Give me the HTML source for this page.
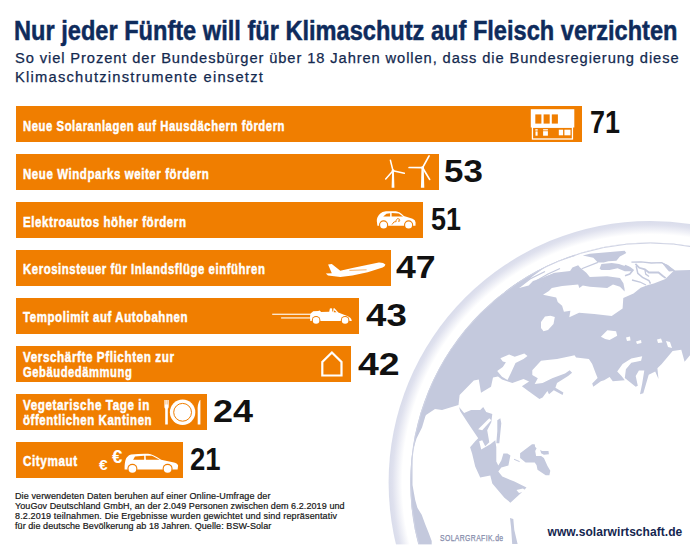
<!DOCTYPE html>
<html><head><meta charset="utf-8">
<style>
html,body{margin:0;padding:0;background:#fff;}
body{width:690px;height:546px;position:relative;overflow:hidden;font-family:"Liberation Sans",sans-serif;}
.t{position:absolute;white-space:nowrap;transform-origin:0 0;line-height:1;}
.title{left:13.5px;top:17.6px;font-size:27px;font-weight:bold;color:#0e2b5c;transform:scaleX(0.874);-webkit-text-stroke:0.5px #0e2b5c;}
.sub{left:15px;font-size:14.7px;color:#13294f;letter-spacing:0.9px;-webkit-text-stroke:0.25px #13294f;}
.bar{position:absolute;left:16px;height:36px;background:#f07e00;}
.lab{position:absolute;left:23.4px;font-size:15.2px;font-weight:bold;color:#fff;white-space:nowrap;transform-origin:0 0;transform:scaleX(0.855);line-height:1;-webkit-text-stroke:0.5px #fff;letter-spacing:0.75px;}
.num{position:absolute;font-size:31px;transform-origin:0 0;font-weight:bold;color:#111;line-height:1;white-space:nowrap;}
.foot{position:absolute;left:15px;font-size:9px;color:#161616;-webkit-text-stroke:0.2px #161616;line-height:1;white-space:nowrap;}
svg{position:absolute;left:0;top:0;}
</style></head><body>
<svg width="690" height="546" viewBox="0 0 690 546" id="globe" style="position:absolute;left:0;top:0">
<defs><radialGradient id="rg" gradientUnits="userSpaceOnUse" cx="650.3" cy="482.6" r="261.7"><stop offset="0.948" stop-color="#fff"/><stop offset="0.985" stop-color="#dfe1ee"/><stop offset="1" stop-color="#d9dceb"/></radialGradient>
<clipPath id="dc"><circle cx="650.3" cy="482.6" r="240.1"/></clipPath></defs>
<circle cx="650.3" cy="482.6" r="261.7" fill="url(#rg)"/>
<circle cx="650.3" cy="482.6" r="240.1" fill="#c4c9dd"/>
<g clip-path="url(#dc)">
<polygon fill="#fff" points="540.0,200.0 519.1,288.0 528.7,285.4 533.0,281.1 538.3,279.3 545.2,276.7 555.0,272.8 543.0,294.7 556.2,297.6 557.7,302.0 562.1,305.7 563.9,311.7 570.4,310.7 569.3,317.2 579.1,312.8 594.3,313.9 611.7,316.1 622.6,308.5 623.3,298.0 633.5,293.6 640.7,287.8 648.0,285.0 653.8,283.5 665.4,279.1 674.0,270.4 700.0,269.7 700.0,200.0"/>
<polygon fill="#c4c9dd" points="505.0,292.0 519.1,288.0 533.0,275.9 545.2,267.2 560.0,260.2 575.0,256.0 575.0,240.0 505.0,240.0"/>
<polygon fill="#c4c9dd" points="661.7,262.6 668.0,265.0 675.0,271.0 669.0,271.5 666.0,268.0"/>
<polygon fill="#c4c9dd" points="545.2,276.7 555.0,272.8 570.1,271.1 572.4,267.6 578.2,265.3 580.0,267.6 586.3,272.8 589.8,276.9 607.2,276.3 620.0,278.0 623.4,283.3 624.6,289.1 624.6,291.4 620.0,286.7 613.0,284.4 607.2,287.9 589.8,286.7 582.8,285.6 579.3,287.9 578.2,284.5 562.1,285.9 551.8,288.1 548.9,291.0 543.0,294.7 538.0,300.0"/>
<polygon fill="#c4c9dd" points="582.8,255.4 589.8,253.7 624.6,250.8 626.3,253.1 619.9,256.6 616.4,260.7 608.3,261.2 603.7,262.4 597.9,262.4 593.3,257.8 587.5,256.6"/>
<polygon fill="#c4c9dd" points="601.4,264.1 611.8,263.0 619.0,263.9 623.3,265.4 629.1,266.8 632.8,271.2 624.8,271.2 617.6,268.2 609.5,270.0 601.4,270.0 599.6,268.8"/>
<polygon fill="#fff" points="541.0,322.0 545.0,316.5 550.5,315.8 554.8,317.0 553.5,324.0 548.0,330.0 543.5,331.3 541.0,328.0"/>
<polygon fill="#fff" points="600.9,336.7 607.4,330.2 616.1,331.3 617.2,335.7 609.6,340.0 605.2,338.9"/>
<polygon fill="#fff" points="626.0,337.5 630.0,336.5 630.5,340.5 627.0,341.0"/>
<polygon fill="#fff" points="636.0,341.5 641.0,340.0 641.5,343.0 637.0,344.0"/>
<polygon fill="#fff" points="657.0,339.5 661.0,338.5 662.5,342.5 658.0,343.0"/>
<polygon fill="#fff" points="666.0,341.0 670.0,342.0 672.0,348.0 668.0,347.0"/>
<polygon fill="#fff" points="500.4,358.3 509.1,354.4 514.7,356.7 524.3,353.6 527.5,356.0 523.5,359.1 515.5,363.1 510.7,373.5 507.5,379.9 502.0,376.7 497.2,371.1 502.8,367.1 505.9,362.3 502.8,361.5"/>
<polygon fill="#fff" points="426.0,415.0 435.0,409.0 442.0,410.0 458.5,405.0 459.6,395.0 473.8,380.6 478.8,379.6 481.0,392.7 491.0,386.7 493.0,377.5 498.0,376.5 502.0,379.5 512.3,383.1 523.5,379.1 529.1,381.5 521.9,386.3 528.3,391.0 539.4,399.0 542.6,397.4 547.4,391.0 549.0,394.2 553.8,390.2 562.6,395.0 563.4,392.6 555.4,387.8 557.0,383.1 568.1,375.9 572.1,372.7 569.7,370.3 565.0,373.5 552.2,378.3 542.6,383.1 534.7,383.9 537.8,378.3 532.3,375.1 532.3,370.3 541.0,360.7 547.4,359.9 557.0,359.1 571.3,356.0 574.5,355.2 576.1,357.5 588.9,359.1 592.2,363.9 595.4,372.6 597.6,378.0 592.2,383.5 593.3,386.7 600.9,381.3 604.1,380.2 609.6,377.0 612.8,381.3 624.8,380.2 621.5,375.9 617.2,371.5 622.6,363.9 631.3,358.5 642.2,356.3 641.1,360.7 631.3,362.8 625.9,369.3 624.8,378.0 635.7,386.7 637.8,385.7 635.7,375.9 638.9,370.4 644.3,370.4 642.2,383.5 640.0,394.3 643.3,393.3 648.7,374.8 655.2,371.5 658.5,379.1 657.4,368.3 661.7,363.9 672.6,350.9 681.3,349.8 684.6,361.7 690.0,355.2 700.0,355.0 700.0,560.0 431.7,560.0 431.7,540.9 428.7,533.0 425.2,524.3 421.7,514.8 417.4,507.8 415.2,500.0 412.5,485.0 412.5,460.0 413.2,449.5 416.5,438.5 422.0,427.5 425.3,416.5"/>
<polygon fill="#c4c9dd" points="459.1,407.1 464.1,413.1 471.1,410.1 480.2,410.1 483.2,407.1 486.2,412.1 492.3,414.1 491.3,422.2 487.2,430.2 489.3,442.3 485.2,446.3 482.2,440.3 479.2,441.3 481.2,449.4 490.3,444.3 495.3,440.3 496.3,447.3 496.3,461.4 498.3,465.5 501.3,460.4 503.4,453.4 507.4,453.4 510.4,455.4 508.4,465.5 501.3,467.5 498.3,471.5 502.3,476.5 514.4,481.6 526.5,487.6 520.5,493.6 510.4,502.7 504.4,497.7 492.3,483.6 490.3,475.5 480.2,477.5 475.2,466.5 472.1,453.4 470.1,447.3 475.2,441.3 478.2,438.3 468.1,423.2 460.1,411.1"/>
<polygon fill="#c4c9dd" points="497.3,420.2 500.3,418.2 501.3,423.2 499.3,443.3 496.3,443.3 497.3,431.2"/>
<polygon fill="#fff" points="478.2,429.2 489.3,418.2 491.3,420.2 482.2,430.2"/>
<polygon fill="#fff" points="516.5,490.0 523.0,488.5 526.0,491.0 519.0,493.0"/>
<polygon fill="#c4c9dd" points="520.1,453.3 532.0,444.2 534.7,444.2 535.2,446.9 536.6,448.3 535.2,451.0 536.1,456.1 541.1,456.1 543.9,457.9 547.5,466.1 550.3,470.7 549.4,475.3 545.7,475.3 537.5,469.8 536.6,465.2 534.7,462.5 525.6,462.5 520.1,457.9"/>
<polygon fill="#c4c9dd" points="540.2,449.7 542.0,451.0 548.5,451.0 548.9,454.2 543.9,454.7 541.1,453.3"/>
<polygon fill="#c4c9dd" points="510.0,518.0 513.3,519.1 514.3,530.0 517.6,544.1 512.2,544.1 511.1,527.8"/>
<polyline fill="none" stroke="#c4c9dd" stroke-width="1.3" points="519.5,287.0 530.0,279.0 545.0,271.5"/>
<polyline fill="none" stroke="#c4c9dd" stroke-width="1.3" points="536.0,281.0 548.0,274.0 560.0,268.5"/>
<polyline fill="none" stroke="#c4c9dd" stroke-width="1.2" points="597.9,262.4 581.7,268.8"/>
<polyline fill="none" stroke="#c4c9dd" stroke-width="1.3" points="631.4,262.2 641.0,261.8 651.3,263.0 661.7,262.6 666.5,265.4 674.4,270.9"/>
<polyline fill="none" stroke="#c4c9dd" stroke-width="1.6" points="625.0,265.4 629.8,267.8 633.0,270.1 629.8,274.1 625.0,275.7"/>
<polyline fill="none" stroke="#c4c9dd" stroke-width="1.8" points="635.4,263.8 639.3,267.8 644.9,269.3 648.9,272.5 658.5,272.5 662.5,275.7 665.7,278.1"/>
<polyline fill="none" stroke="#c4c9dd" stroke-width="1.5" points="636.2,266.2 637.8,273.3 642.5,277.3 648.9,280.5 650.5,283.7"/>
<polyline fill="none" stroke="#c4c9dd" stroke-width="1.3" points="644.9,269.3 645.7,274.1 649.0,276.5"/>
<polyline fill="none" stroke="#c4c9dd" stroke-width="1.3" points="632.0,280.0 640.0,282.0 646.0,285.0"/>
<polyline fill="none" stroke="#c4c9dd" stroke-width="1.0" points="514.1,459.3 519.6,461.6"/>
</g>
<circle cx="650.3" cy="482.6" r="239.6" fill="none" stroke="#cfd3e4" stroke-width="1"/>
<rect x="380" y="544.4" width="310" height="3" fill="#fff"/>
</svg>

<div class="t title">Nur jeder Fünfte will für Klimaschutz auf Fleisch verzichten</div>
<div class="t sub" style="top:51.4px">So viel Prozent der Bundesbürger über 18 Jahren wollen, dass die Bundesregierung diese</div>
<div class="t sub" style="top:70.3px;letter-spacing:1.24px">Klimaschutzinstrumente einsetzt</div>

<div class="bar" style="top:106px;width:566px"></div>
<div class="bar" style="top:154px;width:423px"></div>
<div class="bar" style="top:202px;width:407px"></div>
<div class="bar" style="top:250px;width:375px"></div>
<div class="bar" style="top:298px;width:343px"></div>
<div class="bar" style="top:346px;width:335px"></div>
<div class="bar" style="top:394px;width:191px"></div>
<div class="bar" style="top:442px;width:167px"></div>

<svg width="690" height="546" viewBox="0 0 690 546" id="icons" style="position:absolute;left:0;top:0">
<rect x="530.8" y="109.2" width="43.5" height="18.3" fill="#fff"/>
<rect x="535.3" y="114.4" width="6.1" height="9.2" fill="#f07e00"/>
<rect x="543.6" y="114.4" width="6.1" height="9.2" fill="#f07e00"/>
<rect x="551.8" y="114.4" width="6.1" height="9.2" fill="#f07e00"/>
<rect x="532.45" y="127.2" width="40" height="11.8" fill="none" stroke="#fff" stroke-width="1.3"/>
<rect x="535.3" y="129.2" width="2.4" height="1.4" fill="#fff"/><rect x="535.5" y="131.4" width="2.1" height="4.3" fill="#fff"/>
<rect x="543.1" y="129.2" width="4.8" height="1.2" fill="#fff"/><rect x="543.1" y="131.2" width="4.8" height="4.5" fill="#fff"/>
<rect x="558.8" y="129.7" width="4.3" height="5.6" fill="#fff"/><rect x="564.4" y="129.7" width="6.1" height="5.6" fill="#fff"/>
<polygon fill="#fff" points="392.1,170.7 393.9,170.7 394.4,187.7 391.6,187.7"/>
<line x1="393" y1="170.7" x2="390.4" y2="160.3" stroke="#fff" stroke-width="1.5" stroke-linecap="round"/>
<line x1="393" y1="170.7" x2="404.3" y2="173.3" stroke="#fff" stroke-width="1.5" stroke-linecap="round"/>
<line x1="393" y1="170.7" x2="385.7" y2="179" stroke="#fff" stroke-width="1.5" stroke-linecap="round"/>
<circle cx="393" cy="170.7" r="1.4" fill="#fff"/>
<polygon fill="#fff" points="421.5,167.7 423.70000000000005,167.7 424.3,187.7 420.90000000000003,187.7"/>
<line x1="422.6" y1="167.7" x2="429.1" y2="155.9" stroke="#fff" stroke-width="1.7" stroke-linecap="round"/>
<line x1="422.6" y1="167.7" x2="409.1" y2="167.5" stroke="#fff" stroke-width="1.7" stroke-linecap="round"/>
<line x1="422.6" y1="167.7" x2="429.6" y2="179.4" stroke="#fff" stroke-width="1.7" stroke-linecap="round"/>
<circle cx="422.6" cy="167.7" r="1.4" fill="#fff"/>
<path fill="#fff" d="M377.4,225.7 L376.8,221 Q376.6,217 380,213.7 Q382,211.6 386,211.3 L395.9,211.2 Q399.5,211.6 403.9,215.9 L412.6,218.8 Q415.5,219.8 415.6,222.5 L415.5,225.7 Z"/>
<polygon fill="#f07e00" points="383.2,216.4 386.5,213.7 390.1,213.3 390.1,216.6"/>
<polygon fill="#f07e00" points="391.6,213.1 398.8,213.4 403.0,216.6 391.6,216.6"/>
<circle cx="383.6" cy="224.9" r="4.6" fill="#f07e00"/><circle cx="383.6" cy="224.9" r="3.5" fill="#fff"/>
<circle cx="408.6" cy="224.9" r="4.6" fill="#f07e00"/><circle cx="408.6" cy="224.9" r="3.5" fill="#fff"/>
<path fill="none" stroke="#f07e00" stroke-width="0.9" d="M392,224.5 Q393.5,221 396.5,221.5 M395.5,221.3 L397.5,218.5 L399.5,219.2 L398.6,221.5 L400.2,220.6"/>
<path fill="#fff" d="M328.1,264.4 L331.8,263.9 L340.3,270.8 L352.4,268.0 L378.8,262.4 Q383.5,262.2 385.4,264.6 Q385.2,266.6 382.6,267.4 L367.7,272.3 L352.4,275.4 L340.3,276.9 L328,275.6 L325.8,273.6 L331.8,273.2 Z"/>
<path fill="none" stroke="#f07e00" stroke-width="0.6" d="M349.4,270.4 L366.6,269.8"/>
<rect x="272.2" y="313.7" width="39.5" height="1.1" fill="#fff"/>
<rect x="281.1" y="317.4" width="30.5" height="1.1" fill="#fff"/>
<path fill="#fff" d="M310.3,321.1 L310,317.1 Q310.3,312.8 311.8,312.4 L313.2,311.3 L318.3,311 L319.4,310.5 L320.5,311.2 L321,312 L329.2,311.7 L329.9,308.6 Q331,307.8 332.1,308.6 L332.3,311.5 L333.2,311.5 L333.5,308.2 L334.5,308.2 L338.3,312.4 L346.6,315.7 Q351.3,317.4 351.7,320.4 L351.7,321.1 Z"/>
<polygon fill="#f07e00" points="334.3,310.2 336.6,312.2 333.7,312.2"/>
<circle cx="316.1" cy="320.4" r="4.3" fill="#f07e00"/><circle cx="316.1" cy="320.4" r="3.3" fill="#fff"/>
<circle cx="345.1" cy="320.4" r="4.3" fill="#f07e00"/><circle cx="345.1" cy="320.4" r="3.3" fill="#fff"/>
<polygon fill="none" stroke="#fff" stroke-width="2.2" stroke-linejoin="miter" points="331.9,352.5 341.5,362 341.5,375.5 322.3,375.5 322.3,362"/>
<path fill="#fff" d="M164.4,400 L168.7,400 L168.7,406.5 Q168.6,408.3 167.8,408.8 L167.8,424.6 L165.2,424.6 L165.2,408.8 Q164.4,408.3 164.4,406.5 Z"/>
<path fill="none" stroke="#f07e00" stroke-width="0.45" d="M165.8,400 L165.8,404.5 M167.3,400 L167.3,404.5"/>
<circle cx="182.6" cy="412.3" r="12.7" fill="#fff"/><circle cx="182.6" cy="412.3" r="8.9" fill="none" stroke="#f07e00" stroke-width="1.0"/>
<path fill="#fff" d="M199.9,400 L200.4,400 L200.4,424.6 L197.7,424.6 L197.7,411 Q197.2,404 199.9,400 Z"/>
<text x="98.9" y="470.4" font-family="Liberation Sans" font-weight="bold" font-size="15.5" fill="#fff">€</text>
<text x="111.9" y="462.6" font-family="Liberation Sans" font-weight="bold" font-size="18.6" fill="#fff">€</text>
<path fill="#fff" d="M124.6,469.4 L124.6,466.2 Q125,459 127.2,457 Q129,454.6 131.1,454.4 Q140,453.6 148.1,453.8 Q153,454.2 161.1,459.7 L172.9,462.3 Q177.6,463.3 178.1,465.5 L177.6,469.4 Z"/>
<polygon fill="#f07e00" points="133.1,459.7 135,456.4 144.2,455.8 144.2,459.7"/>
<polygon fill="#f07e00" points="145.6,455.8 152,455.8 159.6,459.7 145.9,459.7"/>
<circle cx="132.4" cy="468.8" r="5" fill="#f07e00"/><circle cx="132.4" cy="468.8" r="3.9" fill="#fff"/>
<circle cx="167.6" cy="468.8" r="5" fill="#f07e00"/><circle cx="167.6" cy="468.8" r="3.9" fill="#fff"/>
</svg>
<div class="lab" style="top:117.7px;transform:scaleX(0.7439)">Neue Solaranlagen auf Hausdächern fördern</div>
<div class="lab" style="top:165.7px;transform:scaleX(0.7573)">Neue Windparks weiter fördern</div>
<div class="lab" style="top:213.7px;transform:scaleX(0.7595)">Elektroautos höher fördern</div>
<div class="lab" style="top:261.4px;transform:scaleX(0.7490)">Kerosinsteuer für Inlandsflüge einführen</div>
<div class="lab" style="top:309.3px;transform:scaleX(0.7580)">Tempolimit auf Autobahnen</div>
<div class="lab" style="top:348.7px;transform:scaleX(0.7698)">Verschärfte Pflichten zur</div>
<div class="lab" style="top:363.5px;transform:scaleX(0.7385)">Gebäudedämmung</div>
<div class="lab" style="top:396.7px;transform:scaleX(0.7689)">Vegetarische Tage in</div>
<div class="lab" style="top:412.4px;transform:scaleX(0.7554)">öffentlichen Kantinen</div>
<div class="lab" style="top:452.7px;transform:scaleX(0.7705)">Citymaut</div>

<div class="num" style="left:590.3px;top:106.6px;transform:scaleX(0.869)">71</div>
<div class="num" style="left:443.9px;top:156px;transform:scaleX(1.126)">53</div>
<div class="num" style="left:431.1px;top:204.3px;transform:scaleX(0.869)">51</div>
<div class="num" style="left:396.1px;top:252.3px;transform:scaleX(1.151)">47</div>
<div class="num" style="left:365.8px;top:299.6px;transform:scaleX(1.182)">43</div>
<div class="num" style="left:358.1px;top:348.6px;transform:scaleX(1.207)">42</div>
<div class="num" style="left:212.6px;top:396.3px;transform:scaleX(1.160)">24</div>
<div class="num" style="left:190.4px;top:444.1px;transform:scaleX(0.887)">21</div>

<div class="foot" style="top:491.8px;letter-spacing:0.12px">Die verwendeten Daten beruhen auf einer Online-Umfrage der</div>
<div class="foot" style="top:501.7px;letter-spacing:0.08px">YouGov Deutschland GmbH, an der 2.049 Personen zwischen dem 6.2.2019 und</div>
<div class="foot" style="top:511.6px;letter-spacing:0.147px">8.2.2019 teilnahmen. Die Ergebnisse wurden gewichtet und sind repräsentativ</div>
<div class="foot" style="top:521.5px;letter-spacing:0.072px">für die deutsche Bevölkerung ab 18 Jahren. Quelle: BSW-Solar</div>

<div class="t" style="left:547.6px;top:526.3px;font-size:12px;font-weight:bold;color:#14264f;letter-spacing:0.05px;">www.solarwirtschaft.de</div>
<div class="t" style="left:439.6px;top:534.1px;font-size:8.6px;color:#868cab;transform:scaleX(0.8);letter-spacing:0.45px;-webkit-text-stroke:0.25px #868cab;">SOLARGRAFIK.de</div>
</body></html>
